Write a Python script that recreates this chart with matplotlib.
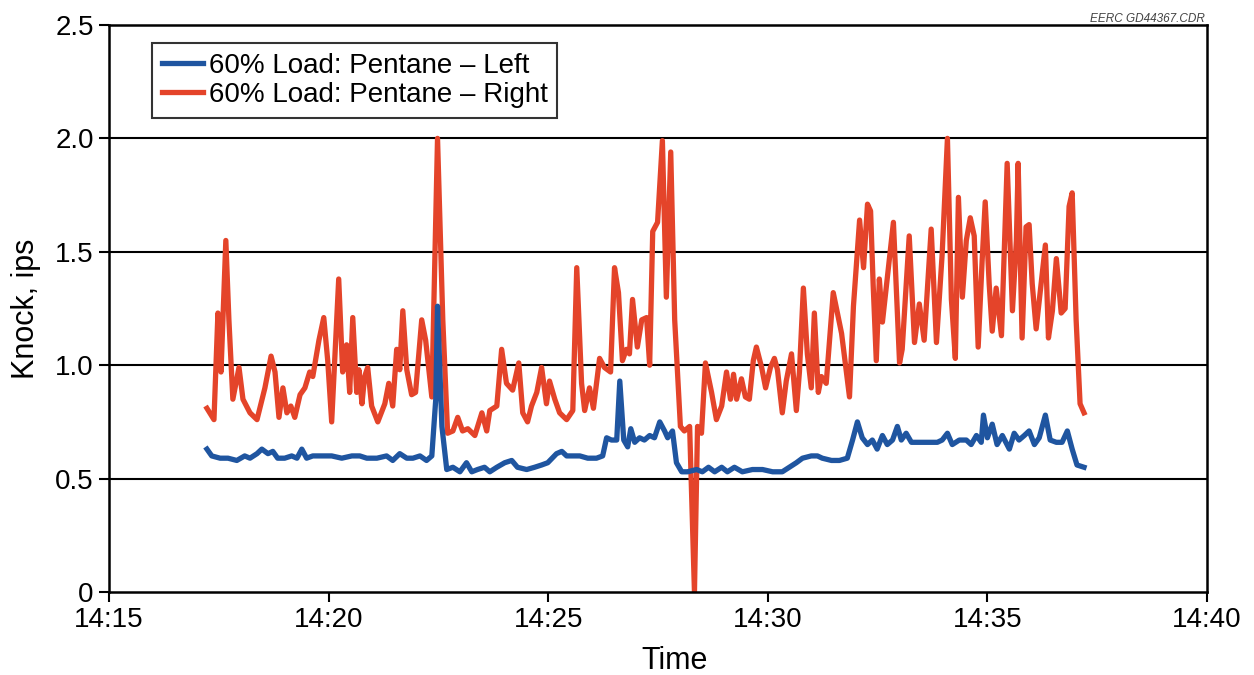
import matplotlib
matplotlib.use("Agg")
import matplotlib.pyplot as plt

plt.rcParams["font.family"] = ["Liberation Sans", "DejaVu Sans"]

# Sample times, minutes after 14:00
left_time = [
    17.23, 17.34, 17.53, 17.71, 17.91, 18.09, 18.21, 18.37, 18.48, 18.62,
    18.73, 18.84, 19.00, 19.16, 19.28, 19.39, 19.50, 19.64, 19.85, 20.07,
    20.30, 20.53, 20.71, 20.87, 21.10, 21.32, 21.46, 21.62, 21.78, 21.92,
    22.08, 22.23, 22.35, 22.44, 22.48, 22.58, 22.69, 22.83, 22.99, 23.14,
    23.26, 23.39, 23.55, 23.67, 23.83, 24.01, 24.17, 24.30, 24.51, 24.69,
    24.85, 24.99, 25.19, 25.31, 25.42, 25.53, 25.72, 25.90, 26.10, 26.24,
    26.33, 26.44, 26.56, 26.63, 26.72, 26.81, 26.88, 26.97, 27.08, 27.19,
    27.31, 27.42, 27.54, 27.65, 27.72, 27.83, 27.92, 28.04, 28.17, 28.38,
    28.51, 28.65, 28.79, 28.95, 29.08, 29.24, 29.42, 29.65, 29.88, 30.11,
    30.33, 30.49, 30.65, 30.79, 30.99, 31.13, 31.24, 31.45, 31.63, 31.81,
    31.93, 32.04, 32.15, 32.27, 32.38, 32.49, 32.61, 32.72, 32.84, 32.95,
    33.04, 33.15, 33.27, 33.40, 33.56, 33.72, 33.86, 33.97, 34.09, 34.20,
    34.36, 34.52, 34.63, 34.75, 34.86, 34.91, 35.00, 35.11, 35.22, 35.34,
    35.50, 35.61, 35.72, 35.84, 35.95, 36.07, 36.18, 36.32, 36.43, 36.57,
    36.70, 36.82, 36.93, 37.04, 37.20,
]
left_knock = [
    0.63, 0.60, 0.59, 0.59, 0.58, 0.60, 0.59, 0.61, 0.63, 0.61,
    0.62, 0.59, 0.59, 0.60, 0.59, 0.63, 0.59, 0.60, 0.60, 0.60,
    0.59, 0.60, 0.60, 0.59, 0.59, 0.60, 0.58, 0.61, 0.59, 0.59,
    0.60, 0.58, 0.60, 0.85, 1.26, 0.73, 0.54, 0.55, 0.53, 0.57,
    0.53, 0.54, 0.55, 0.53, 0.55, 0.57, 0.58, 0.55, 0.54, 0.55,
    0.56, 0.57, 0.61, 0.62, 0.60, 0.60, 0.60, 0.59, 0.59, 0.60,
    0.68, 0.67, 0.67, 0.93, 0.67, 0.64, 0.72, 0.66, 0.68, 0.67,
    0.69, 0.68, 0.75, 0.71, 0.68, 0.71, 0.57, 0.53, 0.53, 0.54,
    0.53, 0.55, 0.53, 0.55, 0.53, 0.55, 0.53, 0.54, 0.54, 0.53,
    0.53, 0.55, 0.57, 0.59, 0.60, 0.60, 0.59, 0.58, 0.58, 0.59,
    0.67, 0.75, 0.68, 0.65, 0.67, 0.63, 0.69, 0.65, 0.67, 0.73,
    0.67, 0.70, 0.66, 0.66, 0.66, 0.66, 0.66, 0.67, 0.70, 0.65,
    0.67, 0.67, 0.65, 0.69, 0.66, 0.78, 0.68, 0.74, 0.65, 0.69,
    0.63, 0.70, 0.67, 0.69, 0.71, 0.65, 0.68, 0.78, 0.67, 0.66,
    0.66, 0.71, 0.63, 0.56, 0.55,
]

right_time = [
    17.23, 17.39, 17.48, 17.55, 17.66, 17.73, 17.82, 17.96, 18.05, 18.21,
    18.37, 18.55, 18.69, 18.78, 18.87, 18.96, 19.05, 19.14, 19.23, 19.35,
    19.46, 19.57, 19.64, 19.78, 19.89, 19.98, 20.07, 20.23, 20.32, 20.41,
    20.48, 20.55, 20.64, 20.69, 20.76, 20.82, 20.89, 20.98, 21.12, 21.28,
    21.37, 21.46, 21.55, 21.62, 21.69, 21.78, 21.89, 21.98, 22.12, 22.21,
    22.35, 22.48, 22.60, 22.71, 22.83, 22.94, 23.05, 23.17, 23.33, 23.49,
    23.60, 23.67, 23.83, 23.94, 24.05, 24.19, 24.33, 24.42, 24.53, 24.62,
    24.74, 24.85, 24.96, 25.03, 25.15, 25.26, 25.42, 25.56, 25.65, 25.76,
    25.83, 25.94, 26.03, 26.17, 26.28, 26.42, 26.51, 26.60, 26.69, 26.78,
    26.85, 26.92, 27.03, 27.13, 27.24, 27.31, 27.38, 27.49, 27.60, 27.69,
    27.79, 27.88, 28.01, 28.10, 28.22, 28.33, 28.40, 28.49, 28.58, 28.72,
    28.83, 28.95, 29.06, 29.15, 29.22, 29.29, 29.40, 29.49, 29.58, 29.67,
    29.74, 29.86, 29.95, 30.06, 30.15, 30.22, 30.33, 30.42, 30.54, 30.65,
    30.72, 30.81, 30.90, 30.99, 31.06, 31.15, 31.22, 31.33, 31.49, 31.68,
    31.86, 31.95, 32.09, 32.18, 32.27, 32.34, 32.40, 32.47, 32.54, 32.61,
    32.70, 32.86, 33.00, 33.06, 33.22, 33.34, 33.45, 33.56, 33.72, 33.84,
    33.97, 34.09, 34.18, 34.27, 34.34, 34.43, 34.52, 34.61, 34.70, 34.79,
    34.88, 34.95, 35.04, 35.11, 35.20, 35.32, 35.45, 35.57, 35.66, 35.70,
    35.79, 35.88, 35.95, 36.02, 36.11, 36.20, 36.32, 36.39, 36.48, 36.57,
    36.68, 36.77, 36.86, 36.93, 37.02, 37.11, 37.20,
]
right_knock = [
    0.81, 0.76, 1.23, 0.97, 1.55, 1.20, 0.85, 0.99, 0.85, 0.79,
    0.76, 0.90, 1.04, 0.97, 0.77, 0.90, 0.79, 0.82, 0.77, 0.87,
    0.90, 0.97, 0.95, 1.11, 1.21, 1.02, 0.75, 1.38, 0.97, 1.09,
    0.88, 1.21, 0.88, 0.98, 0.83, 0.95, 0.99, 0.82, 0.75, 0.83,
    0.92, 0.82, 1.07, 0.98, 1.24, 0.98, 0.87, 0.88, 1.20, 1.11,
    0.86, 2.00, 1.20, 0.70, 0.71, 0.77, 0.71, 0.72, 0.69, 0.79,
    0.71, 0.80, 0.82, 1.07, 0.92, 0.89, 1.01, 0.79, 0.75, 0.82,
    0.88, 0.99, 0.83, 0.93, 0.85, 0.79, 0.76, 0.80, 1.43, 0.92,
    0.80, 0.90, 0.81, 1.03, 0.99, 0.97, 1.43, 1.32, 1.02, 1.07,
    1.05, 1.29, 1.08, 1.20, 1.21, 1.00, 1.59, 1.63, 1.99, 1.30,
    1.94, 1.20, 0.73, 0.71, 0.73, 0.00, 0.73, 0.70, 1.01, 0.88,
    0.76, 0.82, 0.97, 0.85, 0.96, 0.85, 0.94, 0.86, 0.85, 1.02,
    1.08, 0.99, 0.90, 0.99, 1.03, 0.98, 0.79, 0.93, 1.05, 0.80,
    0.97, 1.34, 1.05, 0.90, 1.23, 0.88, 0.95, 0.92, 1.32, 1.14,
    0.86, 1.26, 1.64, 1.43, 1.71, 1.68, 1.35, 1.02, 1.38, 1.19,
    1.35, 1.63, 1.01, 1.07, 1.57, 1.10, 1.27, 1.11, 1.60, 1.10,
    1.49, 2.00, 1.29, 1.03, 1.74, 1.30, 1.55, 1.65, 1.57, 1.08,
    1.46, 1.72, 1.36, 1.15, 1.34, 1.13, 1.89, 1.24, 1.55, 1.89,
    1.12, 1.61, 1.62, 1.36, 1.16, 1.32, 1.53, 1.12, 1.24, 1.47,
    1.23, 1.25, 1.70, 1.76, 1.20, 0.83, 0.79,
]

x_ticks = [15, 20, 25, 30, 35, 40]
x_tick_labels = ["14:15", "14:20", "14:25", "14:30", "14:35", "14:40"]
y_ticks = [0, 0.5, 1.0, 1.5, 2.0, 2.5]
y_tick_labels = ["0", "0.5", "1.0", "1.5", "2.0", "2.5"]

fig = plt.figure(figsize=(12.54, 6.75), dpi=100)
ax = fig.add_axes([109 / 1254, 1 - 592 / 675, 1098 / 1254, 567 / 675])

for y in y_ticks[1:-1]:
    ax.axhline(y, color="black", lw=1.5, zorder=1)

ax.plot(left_time, left_knock, color="#1f55a0", lw=3.8,
        solid_joinstyle="round", label="60% Load: Pentane – Left", zorder=3)
ax.plot(right_time, right_knock, color="#e4442a", lw=3.8,
        solid_joinstyle="round", label="60% Load: Pentane – Right", zorder=2)

ax.set_xlim(15, 40)
ax.set_ylim(0, 2.5)
ax.set_xticks(x_ticks, x_tick_labels)
ax.set_yticks(y_ticks, y_tick_labels)
ax.tick_params(axis="both", direction="out", length=7, width=1.5,
               labelsize=20, colors="black", pad=4)

for s in ax.spines.values():
    s.set_linewidth(1.8)
    s.set_color("black")

ax.set_xlabel("Time", fontsize=22)
ax.xaxis.set_label_coords(0.515, -0.095)
ax.set_ylabel("Knock, ips", fontsize=22)
ax.yaxis.set_label_coords(-0.062, 0.5)

leg = ax.legend(loc="upper left", bbox_to_anchor=(0.039, 0.968),
                borderaxespad=0, fontsize=20, frameon=True, fancybox=False,
                handlelength=1.5, handletextpad=0.2, labelspacing=0.12,
                borderpad=0.35)
leg.get_frame().set_edgecolor("black")
leg.get_frame().set_linewidth(1.5)

fig.text(1205 / 1254, 1 - 22 / 675, "EERC GD44367.CDR", ha="right",
         va="baseline", fontsize=8.5, style="italic", color="#444444")

fig.savefig("out.png", dpi=100, facecolor="white")
